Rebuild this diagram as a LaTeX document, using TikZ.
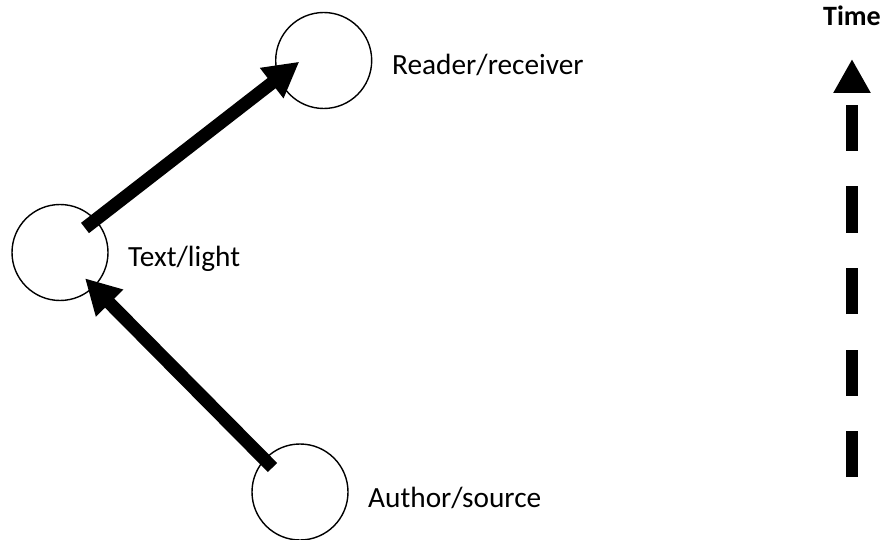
\documentclass[tikz,border=0pt]{standalone}
\usepackage{fontspec}
\setmainfont{Carlito}
\usetikzlibrary{arrows.meta,calc}
\begin{document}
\begin{tikzpicture}[x=1pt,y=-1pt,
  actor/.style={circle,draw=black,line width=1.4pt,minimum size=96pt,inner sep=0pt},
  lbl/.style={anchor=base west,inner sep=0pt,font=\fontsize{29.3}{35}\selectfont},
  flow/.style={line width=13pt,-{Triangle[length=35pt,width=36pt]}},
  timeline/.style={line width=12pt,dash pattern=on 46pt off 35.5pt,-{Triangle[length=34pt,width=35pt]}}]
\useasboundingbox (0,0) rectangle (883,540);
\node[actor] (reader) at (323.7,60.5) {};
\node[actor] (text) at (60,252.5) {};
\node[actor] (author) at (300,492) {};
\node[lbl] (lreader) at (392,74.3) {Reader/receiver};
\node[lbl] (ltext) at (128,266) {Text/light};
\node[lbl] (lauthor) at (368,507.3) {Author/source};
\node[lbl,font=\fontsize{28}{34}\selectfont\bfseries] (ltime) at (823,26) {Time};
\draw[flow] ($(author)+(-27.5,-24.5)$) -- ($(text)+(25,25.8)$);
\draw[flow] ($(text)+(25,-24.5)$) -- ($(reader)+(-24.4,1.2)$);
\coordinate (tb) at (852,477);
\coordinate (tt) at (852,59);
\draw[timeline] (tb) -- (tt);
\end{tikzpicture}
\end{document}
